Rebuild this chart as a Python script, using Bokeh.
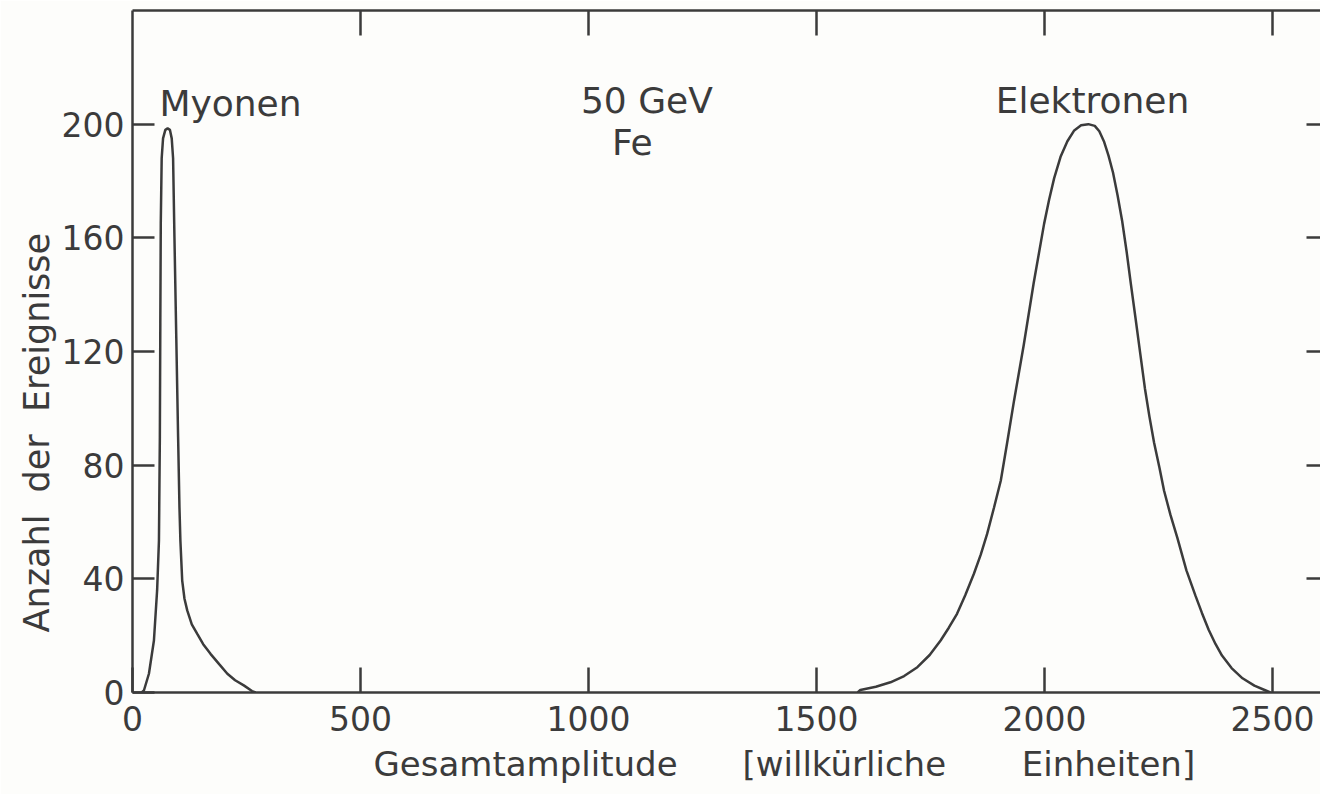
from bokeh.plotting import figure
from bokeh.models import (LinearAxis, Label, FixedTicker, Range1d, Title,
                          CustomLabelingPolicy)
from bokeh.embed import file_html
from bokeh.resources import INLINE

# Myonen peak: amplitude vs. event count
muon_x = [20, 25, 36, 47, 54, 58, 60, 61, 62, 64, 67, 72, 77, 82, 86, 89, 92, 96,
          100, 103, 105, 109, 114, 120, 130, 142, 155, 171, 190, 208, 225, 244, 262, 270]
muon_y = [0, 0.7, 6.6, 18.3, 36, 53.5, 90, 130, 165, 188, 195, 198, 198.5, 198, 195,
          188, 160, 125, 90, 65, 53.5, 39.4, 33, 28.9, 24, 20.6, 17, 13.6, 10, 6.6, 4.3,
          2.5, 0.5, 0]

# Elektronen peak
elec_x = [1590, 1596, 1630, 1662, 1692, 1721, 1748, 1772, 1790, 1808, 1826, 1845, 1860,
          1874, 1889, 1904, 1918, 1933, 1954, 1976, 1999, 2010, 2021, 2035, 2050, 2065,
          2080, 2096, 2110, 2120, 2130, 2140, 2150, 2160, 2170, 2180, 2189, 2200, 2210,
          2220, 2230, 2240, 2252, 2262, 2276, 2291, 2311, 2331, 2345, 2360, 2375, 2389,
          2410, 2434, 2460, 2485, 2495]
elec_y = [0, 0.9, 2.0, 3.6, 5.8, 8.9, 13.2, 18.3, 22.8, 27.7, 34.2, 41.8, 48.5, 55.8,
          65, 74.6, 88, 102.7, 122, 144, 165, 173.5, 181, 188.5, 194, 197.8, 199.6, 200,
          199.4, 197.5, 194, 189, 183, 175, 166, 155, 144, 131, 119, 107, 97, 88, 79, 71,
          62.5, 54.5, 43, 34, 28, 22, 17, 13, 8.6, 5.0, 2.4, 0.7, 0]

x_ticks = [0, 500, 1000, 1500, 2000, 2500]
y_ticks = [0, 40, 80, 120, 160, 200]

FONT = "DejaVu Sans"
INK = "#3b3b3b"
PAPER = "#fdfdfb"
NBSP = "\u00a0"

p = figure(width=1320, height=794, output_backend="svg", toolbar_location=None,
           x_range=Range1d(0, 2605), y_range=Range1d(0, 240),
           min_border_left=132, min_border_right=0, min_border_top=10,
           min_border_bottom=102, x_axis_location=None, y_axis_location=None)
p.background_fill_color = PAPER
p.border_fill_color = PAPER
p.outline_line_color = None
p.grid.visible = False


def style_axis(ax, tick_in, labels=True):
    ax.axis_line_color = INK
    ax.axis_line_width = 2.5
    ax.major_tick_line_color = INK
    ax.major_tick_line_width = 2.5
    ax.major_tick_in = tick_in
    ax.major_tick_out = 0
    ax.minor_tick_line_color = None
    if labels:
        ax.major_label_text_font = FONT
        ax.major_label_text_font_size = "33px"
        ax.major_label_text_color = INK
    else:
        # frame ticks only, no numbers on the top and right sides
        ax.major_label_policy = CustomLabelingPolicy(code="return []")
        ax.major_label_text_font_size = "0px"
        ax.major_label_standoff = 0


bottom = LinearAxis(ticker=FixedTicker(ticks=x_ticks))
style_axis(bottom, 25)
bottom.major_label_standoff = 13
p.add_layout(bottom, "below")

left = LinearAxis(ticker=FixedTicker(ticks=y_ticks))
style_axis(left, 22)
left.major_label_standoff = 8
p.add_layout(left, "left")

top = LinearAxis(ticker=FixedTicker(ticks=x_ticks[1:]))
style_axis(top, 25, labels=False)
p.add_layout(top, "above")

right = LinearAxis(ticker=FixedTicker(ticks=y_ticks[1:]))
style_axis(right, 14, labels=False)
right.axis_line_color = None
p.add_layout(right, "right")

p.line(muon_x, muon_y, line_color=INK, line_width=2.5)
p.line(elec_x, elec_y, line_color=INK, line_width=2.5)


def add_label(text, x, y, align="left"):
    p.add_layout(Label(x=x, y=y, text=text, text_font=FONT, text_font_size="36px",
                       text_color=INK, text_align=align, text_baseline="alphabetic"))


add_label("Myonen", 59, 207.2)
add_label("50 GeV", 1128, 208.3, align="center")
add_label("Fe", 1096, 193.5, align="center")
add_label("Elektronen", 2105, 208.3, align="center")

# axis titles placed in the side panels
x_title = "Gesamtamplitude" + NBSP * 6 + "[willkürliche" + NBSP * 7 + "Einheiten]"
p.add_layout(Title(text=x_title, align="left", offset=241, standoff=16,
                   text_font=FONT, text_font_size="34px", text_font_style="normal",
                   text_color=INK), "below")

y_title = "Anzahl" + NBSP * 2 + "der" + NBSP * 2 + "Ereignisse"
p.add_layout(Title(text=y_title, align="left", offset=60, standoff=4,
                   text_font=FONT, text_font_size="35px", text_font_style="normal",
                   text_color=INK), "left")

open("out.html", "w").write(file_html(p, INLINE))
